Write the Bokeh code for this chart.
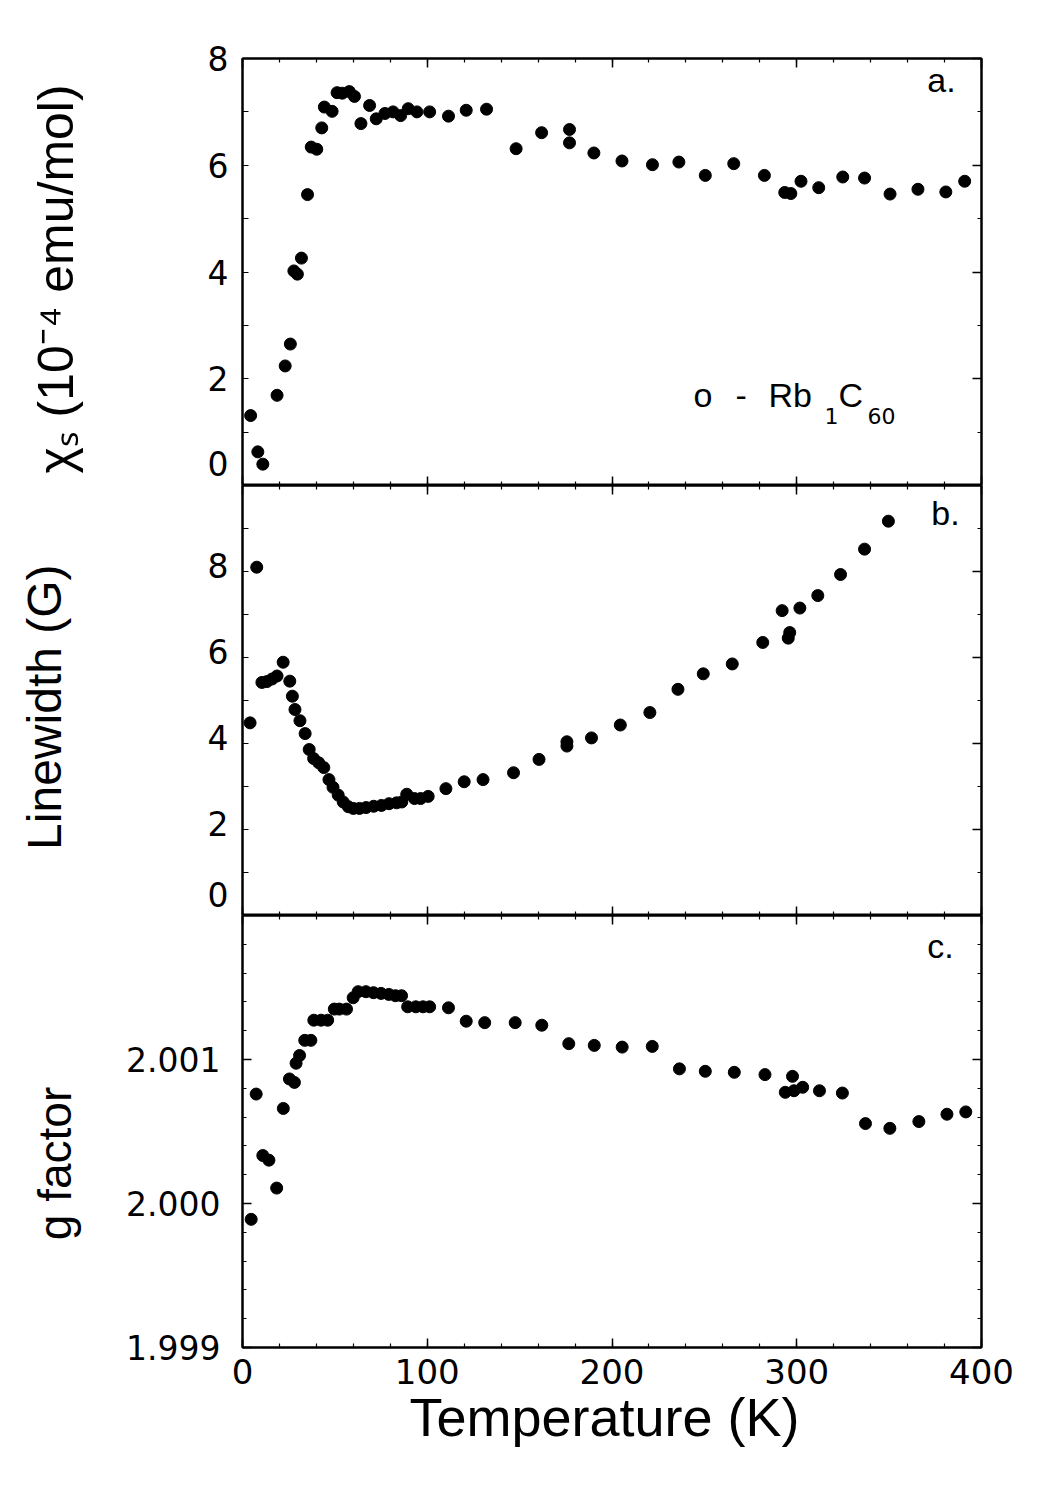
from bokeh.plotting import figure
from bokeh.layouts import column
from bokeh.models import Range1d, LinearAxis, FixedTicker, Label
from bokeh.embed import file_html
from bokeh.resources import INLINE

# ---------------- data ----------------
chi_T = [4.4, 8.3, 11.0, 18.7, 23.1, 25.9, 27.8, 29.7, 31.9, 35.2,
         37.2, 40.2, 42.9, 44.3, 48.5, 51.2, 54.0, 57.8, 60.6, 64.1,
         68.8, 72.4, 77.1, 81.5, 85.6, 89.7, 94.4, 101.3, 111.5, 121.1,
         132.1, 148.1, 161.9, 177.0, 177.0, 190.2, 205.4, 221.9, 236.2, 250.5,
         265.9, 282.5, 293.5, 296.8, 302.3, 311.9, 324.9, 336.7, 350.5, 365.6,
         380.7, 390.9]
chi_s = [1.31, 0.63, 0.40, 1.69, 2.24, 2.65, 4.02, 3.96, 4.26, 5.45,
         6.34, 6.30, 6.70, 7.09, 7.01, 7.36, 7.35, 7.38, 7.29, 6.78,
         7.12, 6.87, 6.97, 7.00, 6.93, 7.06, 7.00, 7.00, 6.92, 7.03,
         7.05, 6.31, 6.61, 6.67, 6.42, 6.23, 6.08, 6.01, 6.06, 5.81,
         6.03, 5.81, 5.49, 5.47, 5.70, 5.58, 5.78, 5.76, 5.46, 5.55,
         5.50, 5.70]

lw_T = [4.1, 7.7, 10.5, 13.2, 16.0, 18.7, 22.0, 25.6, 27.0, 28.4,
        31.1, 33.9, 36.1, 38.5, 41.3, 44.0, 46.8, 49.0, 51.8, 54.5,
        57.3, 60.0, 63.3, 66.9, 71.0, 75.2, 79.3, 83.4, 86.2, 88.9,
        93.1, 96.4, 100.5, 110.1, 120.0, 130.2, 146.7, 160.5, 175.6, 175.6,
        188.9, 204.5, 220.5, 235.7, 249.4, 265.1, 281.6, 292.1, 295.4, 296.2,
        301.7, 311.4, 323.7, 336.7, 349.6]
linewidth = [4.48, 8.10, 5.42, 5.44, 5.50, 5.57, 5.89, 5.45, 5.10, 4.79,
             4.53, 4.23, 3.86, 3.65, 3.55, 3.44, 3.16, 2.98, 2.80, 2.64,
             2.53, 2.49, 2.49, 2.51, 2.54, 2.56, 2.60, 2.62, 2.64, 2.82,
             2.72, 2.72, 2.77, 2.95, 3.11, 3.16, 3.32, 3.63, 3.94, 4.04,
             4.13, 4.43, 4.72, 5.26, 5.62, 5.85, 6.35, 7.09, 6.45, 6.58,
             7.15, 7.44, 7.93, 8.52, 9.17]

g_T = [4.7, 7.4, 11.0, 14.3, 18.5, 22.1, 25.4, 28.1, 29.0, 30.9,
       33.7, 37.0, 38.6, 42.5, 46.1, 49.7, 52.4, 56.3, 59.9, 62.6,
       66.8, 70.9, 75.0, 79.2, 82.8, 86.1, 89.4, 93.8, 97.7, 101.3,
       111.5, 121.1, 131.1, 147.6, 162.0, 176.6, 190.4, 205.5, 221.8, 236.5,
       250.5, 266.2, 282.8, 293.8, 297.7, 298.5, 303.2, 312.3, 324.7, 337.2,
       350.4, 366.1, 381.3, 391.5]
g_factor = [1.999890, 2.000760, 2.000333, 2.000301, 2.000107, 2.000660, 2.000865, 2.000841, 2.000974, 2.001028,
            2.001133, 2.001133, 2.001273, 2.001273, 2.001273, 2.001350, 2.001350, 2.001350, 2.001429, 2.001471,
            2.001471, 2.001464, 2.001459, 2.001452, 2.001443, 2.001443, 2.001366, 2.001366, 2.001366, 2.001366,
            2.001359, 2.001266, 2.001256, 2.001256, 2.001238, 2.001110, 2.001098, 2.001086, 2.001091, 2.000935,
            2.000918, 2.000911, 2.000895, 2.000772, 2.000883, 2.000783, 2.000807, 2.000783, 2.000767, 2.000555,
            2.000522, 2.000569, 2.000620, 2.000636]

x_ticks = [0, 100, 200, 300, 400]
x_minor = [v for v in range(0, 401, 20)]
# tick marks
chi_ticks = [2, 4, 6, 8]
chi_minor = [0, 1, 2, 3, 4, 5, 6, 7, 8]
lw_ticks = [2, 4, 6, 8]
lw_minor = [0, 1, 2, 3, 4, 5, 6, 7, 8, 9, 10]
g_ticks = [1.999, 2.000, 2.001]
g_minor = [1.999 + 0.0002 * i for i in range(16)]
# where the left-hand labels sit (as printed: the lowest ones raised off the corner)
chi_label_pos = [0.41, 2, 4, 6, 8]
chi_labels = {0.41: "0", 2: "2", 4: "4", 6: "6", 8: "8"}
lw_label_pos = [0.48, 2.14, 4.14, 6.14, 8.14]
lw_labels = {0.48: "0", 2.14: "2", 4.14: "4", 6.14: "6", 8.14: "8"}
g_labels = {1.999: "1.999", 2.0: "2.000", 2.001: "2.001"}

NB = "\u00a0"
chi_title = "χₛ  (10⁻⁴ emu/mol)"
lw_title = "Linewidth  (G)"
g_title = "g  factor" + NB * 4
x_title = "Temperature  (K)"

TEXT_FONT = "Liberation Sans"
NUM_FONT = "DejaVu Sans"
LEFT = 242  # frame left edge on the page; label x values below are page x

xr = Range1d(0, 400)


def style_axis(ax, ticks, minor, show_labels, size="33px", tick_in=9, minor_in=4, standoff=14):
    ax.ticker = FixedTicker(ticks=ticks, minor_ticks=minor)
    ax.axis_line_color = "black"
    ax.axis_line_width = 2
    ax.major_tick_line_color = "black"
    ax.minor_tick_line_color = "black"
    ax.major_tick_line_width = 1.5
    ax.minor_tick_line_width = 1.2
    ax.major_tick_in = tick_in
    ax.major_tick_out = 0
    ax.minor_tick_in = minor_in
    ax.minor_tick_out = 0
    ax.axis_label = None
    if show_labels:
        ax.major_label_text_font = NUM_FONT
        ax.major_label_text_font_size = size
        ax.major_label_text_color = "black"
        ax.major_label_standoff = standoff
    else:
        ax.major_label_overrides = {t: "" for t in ticks}
        ax.major_label_text_font_size = "0px"
        ax.major_label_standoff = 0


def title_style(ax, text, size, standoff):
    ax.axis_label = text
    ax.axis_label_text_font = TEXT_FONT
    ax.axis_label_text_font_size = size
    ax.axis_label_text_font_style = "normal"
    ax.axis_label_text_color = "black"
    ax.axis_label_standoff = standoff


def make_fig(height, yr, top, bottom, yt, ym, left_pos, left_over, left_minor_in,
             xlabels, ylab_standoff):
    p = figure(width=1042, height=height, x_range=xr, y_range=yr,
               output_backend="svg", toolbar_location=None,
               min_border_left=LEFT, min_border_right=61,
               min_border_top=top, min_border_bottom=bottom)
    p.grid.visible = False
    p.outline_line_color = "black"
    p.outline_line_width = 2
    p.background_fill_color = "white"
    p.border_fill_color = "white"
    bottom_ax = p.below[0]
    left_ax = p.left[0]
    style_axis(bottom_ax, x_ticks, x_minor, xlabels, "34px", standoff=11)
    if left_over is None:
        style_axis(left_ax, left_pos, ym, True, "33px", 9, 4, ylab_standoff)
    else:
        # labels only on the left: marks are drawn as minor ticks
        style_axis(left_ax, left_pos, ym, True, "33px", 0, left_minor_in, ylab_standoff)
        left_ax.major_label_overrides = left_over
    top_ax = LinearAxis()
    style_axis(top_ax, x_ticks, x_minor, False)
    p.add_layout(top_ax, "above")
    right_ax = LinearAxis()
    style_axis(right_ax, yt, ym, False)
    p.add_layout(right_ax, "right")
    return p, left_ax, bottom_ax


def lab(p, text, x, y, size, align="left", baseline="alphabetic", font=TEXT_FONT):
    p.add_layout(Label(x=x - LEFT, y=y, x_units="screen", y_units="data", text=text,
                       text_font=font, text_font_size=size, text_color="black",
                       text_align=align, text_baseline=baseline))


# ---------------- panel a ----------------
pa, pa_left, _ = make_fig(485, Range1d(0, 8), 58, 0, chi_ticks, chi_minor,
                          chi_label_pos, chi_labels, 6, False, 14)
title_style(pa_left, chi_title, "50px", 121)
pa.scatter(chi_T, chi_s, size=12, color="black")
lab(pa, "a.", 941, 7.6, "34px", align="center", baseline="middle")
lab(pa, "o", 693, 1.69, "34px")
lab(pa, "-", 735, 1.69, "34px")
lab(pa, "Rb", 768, 1.69, "34px")
lab(pa, "1", 824, 1.30, "22px", font=NUM_FONT)
lab(pa, "C", 838, 1.69, "34px")
lab(pa, "60", 867, 1.30, "22px", font=NUM_FONT)

# ---------------- panel b ----------------
pb, pb_left, _ = make_fig(430, Range1d(0, 10), 0, 0, lw_ticks, lw_minor,
                          lw_label_pos, lw_labels, 6, False, 14)
title_style(pb_left, lw_title, "48px", 134)
pb.scatter(lw_T, linewidth, size=12, color="black")
lab(pb, "b.", 945, 9.35, "34px", align="center", baseline="middle")

# ---------------- panel c ----------------
pc, pc_left, pc_bottom = make_fig(573, Range1d(1.999, 2.002), 0, 141, g_ticks, g_minor,
                                  g_ticks, None, 4, True, 22)
pc_left.major_label_overrides = g_labels
title_style(pc_left, g_title, "46px", 42)
title_style(pc_bottom, x_title, "54px", 0)
pc.scatter(g_T, g_factor, size=12, color="black")
lab(pc, "c.", 940, 2.00179, "34px", align="center", baseline="middle")

layout = column(pa, pb, pc, spacing=0)
open("out.html", "w").write(file_html(layout, INLINE))
